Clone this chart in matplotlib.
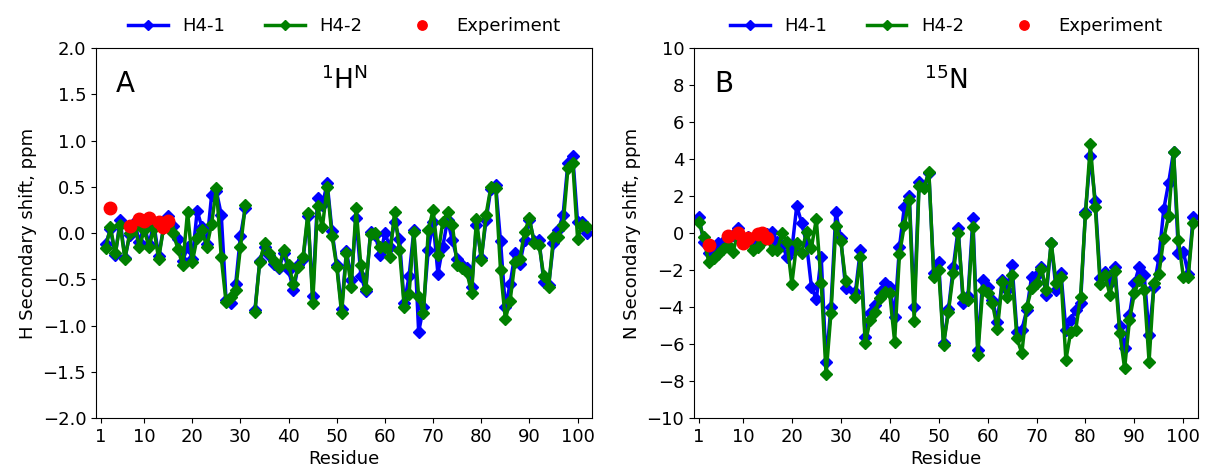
import numpy as np
import matplotlib
matplotlib.use("Agg")
import matplotlib.pyplot as plt

nan = np.nan

# residues
h_res = list(range(2, 103))
n_res = list(range(1, 103))
exp_res = [3, 7, 9, 10, 11, 13, 14, 15]

# 1H^N secondary shifts (residues 2..102)
h_41 = [-0.12, 0.04, -0.24, 0.14, -0.27, -0.02, 0.12, -0.10, 0.08, -0.12,
        0.10, -0.25, 0.05, 0.18, 0.08, -0.06, -0.30, -0.15, -0.28, 0.24,
        0.06, -0.12, 0.41, 0.45, 0.20, -0.72, -0.76, -0.55, -0.03, 0.27,
        nan, -0.83, -0.30, -0.15, -0.24, -0.33, -0.38, -0.22, -0.40, -0.62,
        -0.35, -0.28, 0.18, -0.68, 0.38, 0.30, 0.54, 0.02, -0.35, -0.82,
        -0.19, -0.51, 0.16, -0.46, -0.63, 0.01, -0.02, -0.24, 0.00, -0.15,
        0.12, -0.06, -0.76, -0.47, 0.03, -1.07, -0.80, -0.18, 0.12, -0.44,
        -0.15, 0.14, -0.08, -0.28, -0.35, -0.38, -0.58, 0.09, -0.27, 0.14,
        0.48, 0.52, -0.09, -0.80, -0.55, -0.22, -0.33, -0.08, 0.14, -0.09,
        -0.08, -0.53, -0.56, -0.11, 0.03, 0.20, 0.76, 0.83, 0.12, 0.12,
        0.00]
h_42 = [-0.16, 0.06, -0.22, 0.09, -0.28, 0.00, 0.08, -0.15, 0.03, -0.15,
        0.05, -0.28, 0.05, 0.08, 0.00, -0.17, -0.35, 0.23, -0.31, -0.05,
        0.03, -0.15, 0.10, 0.49, -0.26, -0.75, -0.69, -0.62, -0.15, 0.30,
        nan, -0.85, -0.31, -0.11, -0.22, -0.30, -0.37, -0.18, -0.35, -0.55,
        -0.37, -0.26, 0.22, -0.76, 0.29, 0.06, 0.50, -0.03, -0.37, -0.87,
        -0.22, -0.58, 0.27, -0.35, -0.60, -0.01, 0.00, -0.15, -0.15, -0.26,
        0.23, -0.18, -0.80, -0.66, 0.01, -0.69, -0.87, 0.03, 0.25, -0.24,
        0.12, 0.23, 0.09, -0.35, -0.38, -0.42, -0.65, 0.15, -0.29, 0.20,
        0.50, 0.49, -0.40, -0.93, -0.73, -0.31, -0.28, 0.01, 0.16, -0.11,
        -0.13, -0.47, -0.58, -0.04, -0.04, 0.09, 0.70, 0.76, -0.06, 0.09,
        0.06]
h_exp = [0.27, 0.08, 0.15, 0.13, 0.16, 0.12, 0.06, 0.13]

# 15N secondary shifts (residues 1..102)
n_41 = [0.85, -0.47, -1.10, -0.88, -0.56, -0.47, -0.29, -0.10, 0.25, -0.30,
        -0.20, -0.55, -0.29, -0.10, -0.05, 0.07, -0.47, -0.65, -1.28, -0.92,
        1.46, 0.56, -0.56, -2.90, -3.59, -1.28, -6.99, -3.98, 1.15, -0.29,
        -2.99, nan, -3.17, -0.92, -5.60, -4.34, -3.89, -3.17, -2.72, -2.90,
        -4.52, -0.74, 1.42, 2.00, -3.98, 2.77, 2.50, 3.25, -2.18, -1.55,
        -5.96, -4.13, -1.82, 0.25, -3.77, -3.40, 0.79, -6.32, -2.54, -2.90,
        -3.60, -4.79, -2.55, -3.08, -1.73, -5.33, -5.24, -4.16, -2.36, -2.27,
        -1.85, -3.35, -0.52, -3.08, -2.18, -5.24, -4.70, -4.16, -3.77, 1.15,
        4.16, 1.75, -2.45, -2.09, -2.72, -1.82, -5.03, -6.23, -4.43, -2.72,
        -1.82, -2.27, -5.51, -2.90, -1.37, 1.28, 2.72, 4.40, -1.10, -1.01,
        -2.20, 0.88]
n_42 = [0.61, -0.23, -1.55, -1.37, -1.14, -0.88, -0.65, -1.00, 0.00, -0.47,
        -0.38, -0.92, -0.74, -0.47, -0.29, -0.92, -0.92, -0.02, -0.47, -2.76,
        -0.56, -1.06, 0.07, -0.79, 0.74, -2.68, -7.64, -4.31, 0.38, -0.43,
        -2.58, nan, -3.44, -1.28, -5.96, -4.70, -4.25, -3.53, -3.17, -3.26,
        -5.87, -1.14, 0.43, 1.78, -4.74, 2.54, 2.41, 3.32, -2.36, -2.00,
        -6.05, -4.25, -2.18, -0.02, -3.44, -3.62, 0.31, -6.60, -3.08, -3.23,
        -3.80, -5.21, -2.63, -3.44, -2.27, -5.69, -6.50, -4.02, -2.99, -2.68,
        -1.96, -3.08, -0.52, -2.68, -2.36, -6.86, -5.33, -5.24, -3.44, 1.03,
        4.79, 1.42, -2.76, -2.27, -3.35, -2.04, -5.39, -7.32, -4.70, -3.26,
        -2.54, -3.08, -6.95, -2.72, -2.22, -0.29, 0.92, 4.40, -0.38, -2.36,
        -2.36, 0.56]
n_exp = [-0.65, -0.16, 0.02, -0.52, -0.29, -0.05, 0.02, -0.29]

xticks = [1, 10, 20, 30, 40, 50, 60, 70, 80, 90, 100]


def draw(ax, res, s1, s2, exp, ylim, yticks, ylabel, letter, nucleus):
    ax.plot(res, s1, color="blue", marker="D", markersize=6.5, lw=2.5, label="H4-1")
    ax.plot(res, s2, color="green", marker="D", markersize=6.5, lw=2.5, label="H4-2")
    ax.plot(exp_res, exp, "o", color="red", markersize=9, lw=0, label="Experiment",
            zorder=3)
    ax.set_xlim(0, 103)
    ax.set_ylim(*ylim)
    ax.set_xticks(xticks)
    ax.set_yticks(yticks)
    ax.tick_params(labelsize=13)
    ax.set_xlabel("Residue", fontsize=13, labelpad=3)
    ax.set_ylabel(ylabel, fontsize=13)
    ax.text(0.04, 0.88, letter, transform=ax.transAxes, fontsize=20)
    ax.text(0.5, 0.89, nucleus, transform=ax.transAxes, fontsize=19, ha="center")
    ax.legend(loc="lower center", bbox_to_anchor=(0.5, 0.99), ncol=3,
              frameon=False, fontsize=13, columnspacing=2.2, handlelength=2.2,
              markerscale=0.75)


fig = plt.figure(figsize=(12.05, 4.74), dpi=100)
ax1 = fig.add_axes([0.0797, 0.1181, 0.4116, 0.7806])
ax2 = fig.add_axes([0.5759, 0.1181, 0.4183, 0.7806])

draw(ax1, h_res, h_41, h_42, h_exp, (-2.0, 2.0), np.arange(-2.0, 2.01, 0.5),
     "H Secondary shift, ppm", "A", r"$^{1}$H$^{\mathrm{N}}$")
draw(ax2, n_res, n_41, n_42, n_exp, (-10, 10), np.arange(-10, 11, 2),
     "N Secondary shift, ppm", "B", "$^{15}$N")

fig.savefig("out.png", dpi=100)
